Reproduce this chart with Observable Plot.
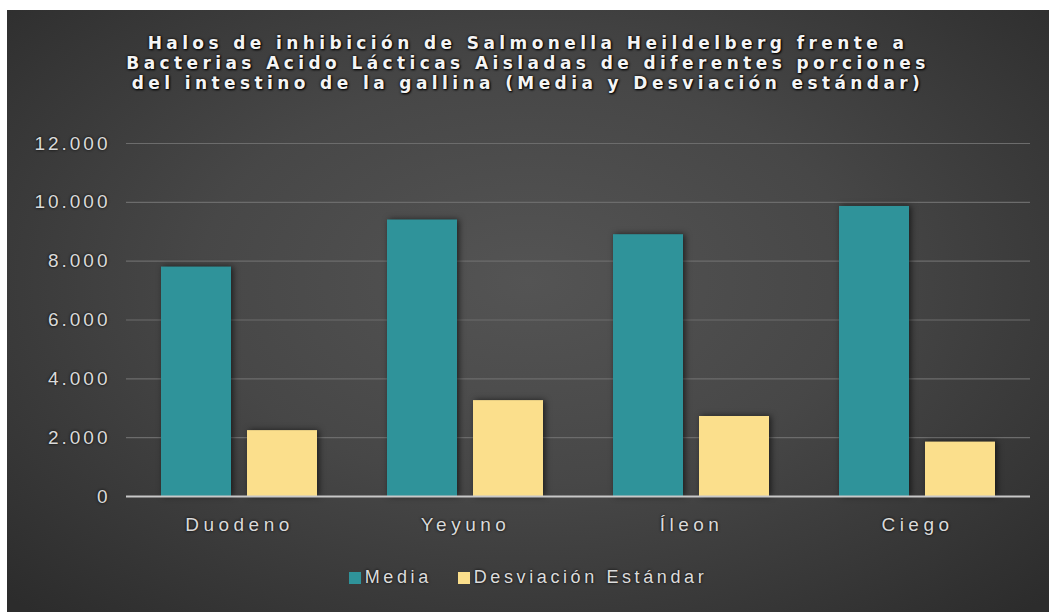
<!DOCTYPE html>
<html>
<head>
<meta charset="utf-8">
<script src="https://cdn.jsdelivr.net/npm/d3@7"></script>
<script src="https://cdn.jsdelivr.net/npm/@observablehq/plot@0.6"></script>
<style>
  html, body { margin: 0; padding: 0; background: #ffffff; }
  #chart {
    position: absolute; left: 7px; top: 10px; width: 1042px; height: 602px;
    background: radial-gradient(ellipse 70% 75% at 50% 45%, #545454 0%, #474747 45%, #363636 80%, #2c2c2c 100%);
    font-family: "Liberation Sans", Arial, sans-serif;
    overflow: hidden;
  }
  #title {
    position: absolute; left: 0; top: 23px; width: 1042px; text-align: center;
    color: #f4f4f4; font-family: "DejaVu Sans", sans-serif; font-weight: bold; font-size: 17px; line-height: 20px; letter-spacing: 4.4px;
    text-shadow: 0 0 3px #000, 1px 1px 2px #000;
  }
  #plot { position: absolute; left: 0; top: 115px; }
  #legend {
    position: absolute; left: 0; top: 557px; width: 1042px;
    display: flex; justify-content: center; align-items: center;
    color: #dcdcdc; font-size: 18px; letter-spacing: 3.6px;
    text-shadow: 0 0 3px #000;
  }
  #legend .item { display: flex; align-items: center; margin: 0 13px; }
  #legend .sw { width: 12px; height: 12px; margin-right: 4px; }
  #plot svg text { text-shadow: 0 0 3px #000; }
  #plot svg g[aria-label="y-axis tick label"] text { letter-spacing: 3px; }
  #plot svg g[aria-label="fx-axis tick label"] text { letter-spacing: 4.5px; }
  #plot svg g[aria-label="bar"] { filter: drop-shadow(2px 0px 3px rgba(0,0,0,0.6)); }
</style>
</head>
<body>
<div id="chart">
  <div id="title"></div>
  <div id="plot"></div>
  <div id="legend"></div>
</div>
<script>
const titleLines = [
  "Halos de inhibición de Salmonella Heildelberg frente a",
  "Bacterias Acido Lácticas Aisladas de diferentes porciones",
  "del intestino de la gallina (Media y Desviación estándar)"
];
const categories = ["Duodeno", "Yeyuno", "Íleon", "Ciego"];
const seriesNames = ["Media", "Desviación Estándar"];
const media = [7800, 9400, 8900, 9860];
const desviacion = [2240, 3260, 2720, 1850];
const yTicks = [0, 2000, 4000, 6000, 8000, 10000, 12000];
const colors = ["#2f939a", "#fbdf8c"];

const data = [];
categories.forEach((c, i) => {
  data.push({cat: c, serie: seriesNames[0], value: media[i]});
  data.push({cat: c, serie: seriesNames[1], value: desviacion[i]});
});

const esLocale = d3.formatLocale({decimal: ",", thousands: ".", grouping: [3], currency: ["", ""]});
const fmt = esLocale.format(",");

document.getElementById("title").innerHTML = titleLines.join("<br>");

const plot = Plot.plot({
  width: 1042,
  height: 420,
  marginLeft: 118,
  marginRight: 19,
  marginTop: 18,
  marginBottom: 49,
  style: {background: "transparent", color: "#dadada", fontFamily: "'Liberation Sans', Arial, sans-serif", fontSize: "19px"},
  fx: {domain: categories, padding: 0, label: null, tickSize: 0, tickPadding: 21, axis: "bottom"},
  x: {domain: seriesNames, axis: null, paddingInner: 0.19, paddingOuter: 0.4},
  y: {domain: [0, 12000], ticks: yTicks, tickFormat: fmt, label: null, tickSize: 0, tickPadding: 16},
  color: {domain: seriesNames, range: colors},
  marks: [
    Plot.ruleY(yTicks.filter(d => d > 0), {stroke: "#6c6c6c", strokeWidth: 1.2}),
    Plot.barY(data, {fx: "cat", x: "serie", y: "value", fill: "serie"}),
    Plot.ruleY([0], {stroke: "#c8c8c8", strokeWidth: 2})
  ]
});
document.getElementById("plot").appendChild(plot);

const legend = document.getElementById("legend");
seriesNames.forEach((s, i) => {
  const item = document.createElement("div");
  item.className = "item";
  const sw = document.createElement("div");
  sw.className = "sw";
  sw.style.background = colors[i];
  const lab = document.createElement("span");
  lab.textContent = s;
  item.appendChild(sw);
  item.appendChild(lab);
  legend.appendChild(item);
});
</script>
</body>
</html>
